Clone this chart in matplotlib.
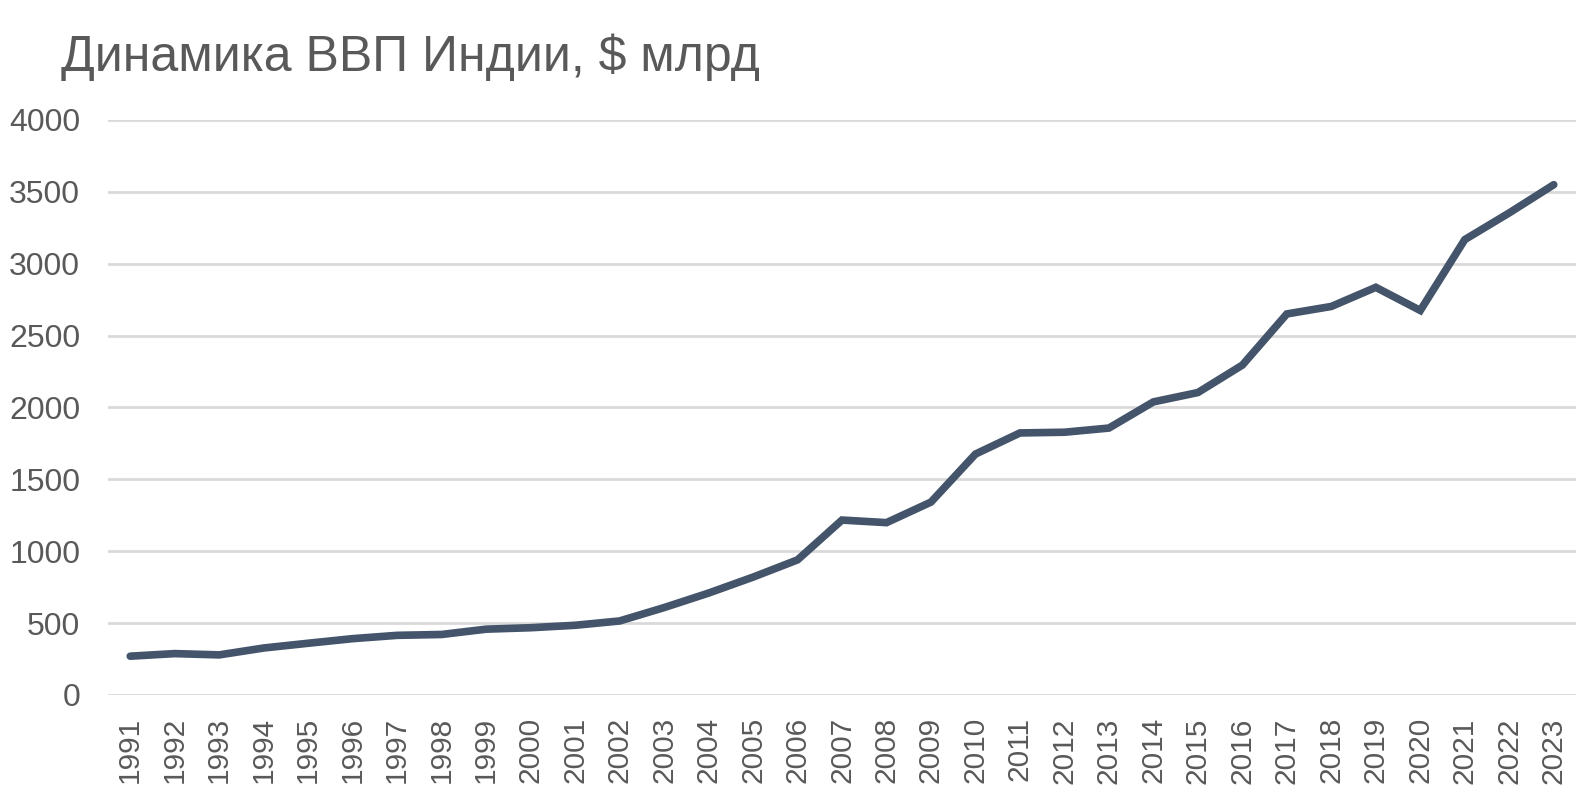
import matplotlib
matplotlib.use('Agg')
import matplotlib.pyplot as plt
import numpy as np

#GDP of India, $ bn, by year
years=[1991,1992,1993,1994,1995,1996,1997,1998,1999,2000,2001,2002,2003,2004,2005,2006,2007,
	2008,2009,2010,2011,2012,2013,2014,2015,2016,2017,2018,2019,2020,2021,2022,2023]
gdp=[270,288,279,327,360,392,415,421,458,468,485,515,608,709,820,940,1217,
	1199,1342,1676,1823,1828,1857,2039,2104,2295,2651,2703,2836,2675,3168,3354,3550]
y_ticks=[0,500,1000,1500,2000,2500,3000,3500,4000]
title='Динамика ВВП Индии, $ млрд'

text_color='#595959'
line_color='#44546A'
grid_color='#D9D9D9'

plt.rcParams['font.family']=['Liberation Sans','DejaVu Sans']

fig=plt.figure(figsize=(15.96,7.94),dpi=100)
ax=fig.add_axes([108/1596,(794-695)/794,1468/1596,575/794])

x=np.arange(len(years))
ax.plot(x,gdp,color=line_color,linewidth=5.5,solid_capstyle='round',solid_joinstyle='miter',zorder=3)

ax.set_xlim(-0.5,len(years)-0.5)
ax.set_ylim(0,4000)
ax.set_yticks(y_ticks)
ax.set_yticklabels([str(v) for v in y_ticks])
ax.set_xticks(x)
ax.set_xticklabels([str(v) for v in years],rotation=90)
ax.grid(axis='y',color=grid_color,linewidth=2)
ax.set_axisbelow(True)
for s in ax.spines.values():
	s.set_visible(False)
ax.tick_params(axis='y',length=0,labelsize=23,colors=text_color,pad=20)
ax.tick_params(axis='x',length=0,labelsize=21.5,colors=text_color,pad=16)

fig.text(61/1596,1-71/794,title,fontsize=36,color=text_color,va='baseline',ha='left')

fig.savefig('out.png',dpi=100)
